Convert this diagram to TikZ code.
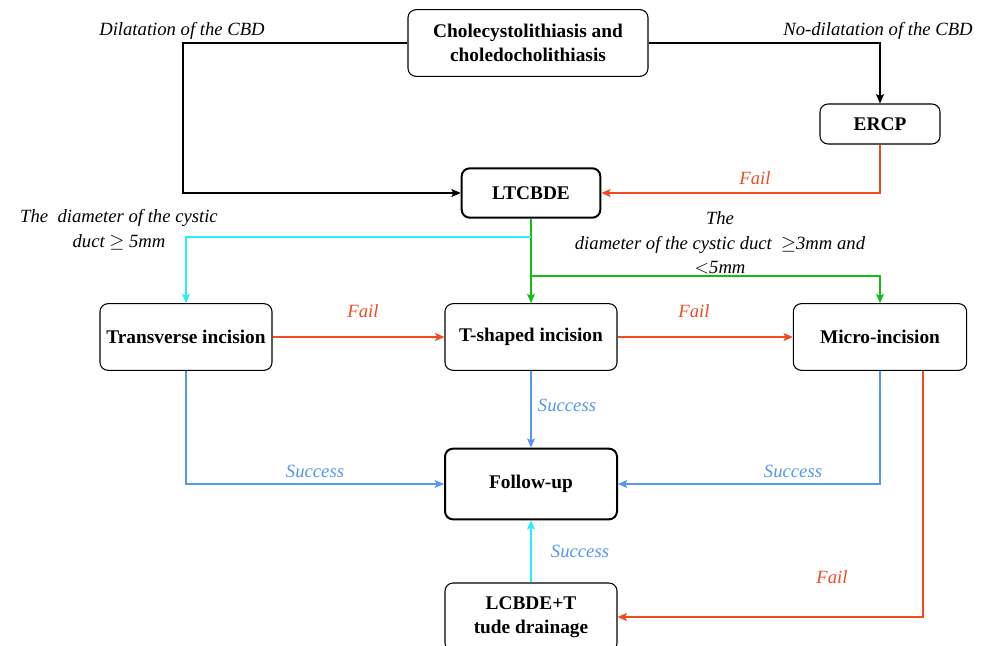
\documentclass[tikz,border=0pt]{standalone}
\usepackage{fontspec}
\setmainfont{Liberation Serif}
\usepackage{tikz}
\usetikzlibrary{arrows.meta}
\usetikzlibrary{graphs}
\usetikzlibrary{quotes}
\usepackage{xcolor}

\definecolor{failred}{RGB}{240,75,35}
\definecolor{ductcyan}{RGB}{40,240,250}
\definecolor{ductgreen}{RGB}{20,190,20}
\definecolor{succblue}{RGB}{85,150,240}

\tikzset{
  box/.style={draw, rounded corners=6pt, line width=0.8pt, inner sep=2pt,
    font=\fontsize{14.5}{18}\selectfont\bfseries, align=center,
    minimum width=129pt, minimum height=50pt},
  mainbox/.style={box, line width=1.5pt},
  lbl/.style={font=\fontsize{14}{18.5}\selectfont\itshape, align=center, inner sep=0pt},
  arr/.style={-{Stealth[length=7pt, width=6pt, inset=1.5pt]}, line width=0.8pt},
}

\begin{document}
\begin{tikzpicture}[x=0.75pt, y=-0.75pt]
        \clip (0, 0) rectangle (987, 645);

        \node[box, minimum width=180pt]                     (chole)  at (528, 43)  {Cholecystolithiasis and\\choledocholithiasis};
        \node[box, minimum width=90pt, minimum height=30pt] (ercp)   at (880, 124) {ERCP};
        \node[mainbox, minimum width=104pt, minimum height=37pt] (ltcbde) at (531, 193) {LTCBDE};
        \node[box]                                          (trans)  at (186, 337) {Transverse incision};
        \node[box]                                          (tshape) at (531, 337) {T-shaped incision};
        \node[box, minimum width=130pt]                     (micro)  at (880, 337) {Micro-incision};
        \node[mainbox, minimum height=53pt]                 (follow) at (531, 484) {Follow-up};
        \node[box, minimum height=51pt]                     (tube)   at (531, 617) {LCBDE+T\\tude drainage};

        \coordinate (dil)   at (183, 43);
        \coordinate (cysl)  at (531, 237);
        \coordinate (cysr)  at (531, 276);
        \coordinate (mfx)   at (923, 0);

        % branches from the top
        \draw[arr] (chole.west) -- (dil) |- (ltcbde.west);
        \draw[arr] (chole.east) -| (ercp.north);
        \draw[arr, failred] (ercp.south) |- (ltcbde.east);

        % cystic duct
        \graph {(ltcbde) ->[arr, ductgreen] (tshape)};
        \draw[arr, ductgreen] (cysr) -| (micro.north);
        \draw[arr, ductcyan] (cysl) -| (trans.north);

        % incisions
        \graph {(trans)  ->[arr, failred]  (tshape)};
        \graph {(tshape) ->[arr, failred]  (micro)};
        \graph {(tshape) ->[arr, succblue] (follow)};
        \draw[arr, succblue] (trans.south) |- (follow.west);
        \draw[arr, succblue] (micro.south) |- (follow.east);
        \draw[arr, failred] (micro.south -| mfx) |- (tube.east);
        \graph {(tube) ->[arr, ductcyan] (follow)};

        % labels
        \node[lbl] (ldil)   at (182, 31)  {Dilatation of the CBD};
        \node[lbl] (lnodil) at (878, 31)  {No-dilatation of the CBD};
        \node[lbl] (lfail1) at (755, 178) [text=failred] {Fail};
        \node[lbl] (lbig)   at (119, 230) {The~~diameter of the cystic\\duct $\geq$ 5mm};
        \node[lbl] (lmid)   at (720, 243) {The\\diameter of the cystic duct~ $\geq$3mm and\\$<$5mm};
        \node[lbl] (lfail2) at (363, 311) [text=failred] {Fail};
        \node[lbl] (lfail3) at (694, 311) [text=failred] {Fail};
        \node[lbl] (lsucc1) at (567, 405) [text=succblue] {Success};
        \node[lbl] (lsucc2) at (315, 471) [text=succblue] {Success};
        \node[lbl] (lsucc3) at (793, 471) [text=succblue] {Success};
        \node[lbl] (lsucc4) at (580, 551) [text=succblue] {Success};
        \node[lbl] (lfail4) at (832, 577) [text=failred] {Fail};
    \end{tikzpicture}
\end{document}
